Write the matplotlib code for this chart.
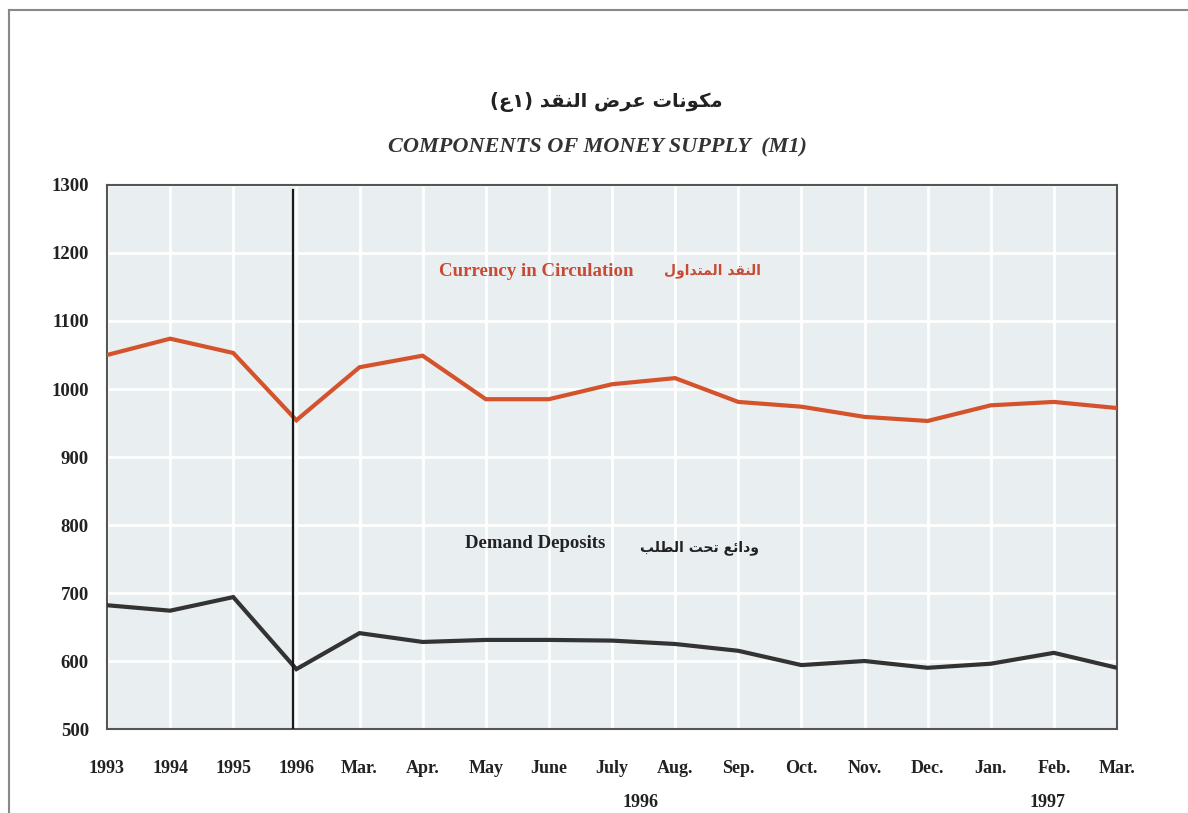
import matplotlib
matplotlib.use("Agg")
import matplotlib.pyplot as plt
from matplotlib.lines import Line2D

# ---------------- data ----------------
categories = ["1993", "1994", "1995", "1996", "Mar.", "Apr.", "May", "June", "July",
              "Aug.", "Sep.", "Oct.", "Nov.", "Dec.", "Jan.", "Feb.", "Mar."]
currency = [1050, 1074, 1053, 954, 1032, 1049, 985, 985, 1007, 1016, 981, 974, 959, 953, 976, 981, 972]
deposits = [682, 674, 694, 588, 641, 628, 631, 631, 630, 625, 615, 594, 600, 590, 596, 612, 590]
yticks = [500, 600, 700, 800, 900, 1000, 1100, 1200, 1300]
year_labels = ["1996", "1997"]

title_ar = "مكونات عرض النقد"
title_ar_paren = "(ع١)"
subtitle = "COMPONENTS OF MONEY SUPPLY  (M1)"
cur_en = "Currency in Circulation"
cur_ar = "النقد المتداول"
dep_en = "Demand Deposits"
dep_ar = "ودائع تحت الطلب"

# ---------------- minimal Arabic shaping ----------------
FORMS = {  # iso, fin, ini, med
    'ا': ('\uFE8D', '\uFE8E', None, None),
    'ب': ('\uFE8F', '\uFE90', '\uFE91', '\uFE92'),
    'ت': ('\uFE95', '\uFE96', '\uFE97', '\uFE98'),
    'ح': ('\uFEA1', '\uFEA2', '\uFEA3', '\uFEA4'),
    'د': ('\uFEA9', '\uFEAA', None, None),
    'ر': ('\uFEAD', '\uFEAE', None, None),
    'ض': ('\uFEBD', '\uFEBE', '\uFEBF', '\uFEC0'),
    'ط': ('\uFEC1', '\uFEC2', '\uFEC3', '\uFEC4'),
    'ع': ('\uFEC9', '\uFECA', '\uFECB', '\uFECC'),
    'ق': ('\uFED5', '\uFED6', '\uFED7', '\uFED8'),
    'ك': ('\uFED9', '\uFEDA', '\uFEDB', '\uFEDC'),
    'ل': ('\uFEDD', '\uFEDE', '\uFEDF', '\uFEE0'),
    'م': ('\uFEE1', '\uFEE2', '\uFEE3', '\uFEE4'),
    'ن': ('\uFEE5', '\uFEE6', '\uFEE7', '\uFEE8'),
    'و': ('\uFEED', '\uFEEE', None, None),
    'ئ': ('\uFE89', '\uFE8A', '\uFE8B', '\uFE8C'),
}


def shape(text):
    out = []
    n = len(text)
    for i, ch in enumerate(text):
        if ch not in FORMS:
            out.append(ch)
            continue
        f = FORMS[ch]
        prev = text[i - 1] if i > 0 else ''
        nxt = text[i + 1] if i + 1 < n else ''
        pj = prev in FORMS and FORMS[prev][2] is not None
        nj = nxt in FORMS and f[2] is not None
        if pj and nj:
            out.append(f[3])
        elif pj:
            out.append(f[1])
        elif nj:
            out.append(f[2])
        else:
            out.append(f[0])
    return ''.join(reversed(out))


# ---------------- figure ----------------
plt.rcParams['font.family'] = ['Liberation Serif', 'DejaVu Sans']
fig = plt.figure(figsize=(11.88, 8.13), dpi=100)
W, H = 1188, 813

ax = fig.add_axes([107 / W, 1 - 729 / H, (1117 - 107) / W, (729 - 185) / H])
ax.set_facecolor('#e9eff0')
x = list(range(len(categories)))

ax.set_xlim(0, len(categories) - 1)
ax.set_ylim(500, 1300)
ax.set_xticks(x)
ax.set_xticklabels(categories, fontweight='bold', fontsize=13, color='#222222')
ax.set_yticks(yticks)
ax.set_yticklabels([str(v) for v in yticks], fontweight='bold', fontsize=13.5, color='#222222')
ax.tick_params(axis='x', length=0, pad=22)
ax.tick_params(axis='y', length=0, pad=13)
ax.grid(True, color='white', linewidth=2)
ax.set_axisbelow(True)
for s in ax.spines.values():
    s.set_color('#555555')
    s.set_linewidth(1.5)

ax.plot(x, currency, color='#d4532d', linewidth=3, solid_joinstyle='miter', zorder=3)
ax.plot(x, deposits, color='#333333', linewidth=3, solid_joinstyle='miter', zorder=3)
ax.axvline(2.94, color='#1a1a1a', linewidth=1.6, ymin=0, ymax=0.99, zorder=4)

# series labels
ax.text(6.80, 1173, cur_en, color='#c84a35', fontsize=13.6, fontweight='bold',
        ha='center', va='center')
ax.text(9.6, 1174, shape(cur_ar), color='#c84a35', fontsize=10, fontweight='bold',
        ha='center', va='center', family=['DejaVu Sans'])
ax.text(6.78, 773, dep_en, color='#222222', fontsize=13.5, fontweight='bold',
        ha='center', va='center')
ax.text(9.38, 766, shape(dep_ar), color='#222222', fontsize=10, fontweight='bold',
        ha='center', va='center', family=['DejaVu Sans'])

# second-row year labels
fig.text(641 / W, 1 - 802 / H, year_labels[0], fontweight='bold', fontsize=13,
         ha='center', va='center', color='#222222')
fig.text(1048 / W, 1 - 802 / H, year_labels[1], fontweight='bold', fontsize=13,
         ha='center', va='center', color='#222222')

# titles
fig.text(606 / W, 1 - 102 / H, title_ar_paren + ' ' + shape(title_ar),
         family=['DejaVu Sans'], fontsize=14, fontweight='bold',
         ha='center', va='center', color='#222222')
fig.text(597 / W, 1 - 147 / H, subtitle, fontsize=16, fontstyle='italic',
         fontweight='bold', ha='center', va='center', color='#333333')

# page border (top and left)
fig.add_artist(Line2D([9 / W, 1], [1 - 10 / H, 1 - 10 / H], color='#888888', linewidth=1.5))
fig.add_artist(Line2D([9 / W, 9 / W], [0, 1 - 10 / H], color='#888888', linewidth=1.5))

fig.savefig('out.png', dpi=100)
